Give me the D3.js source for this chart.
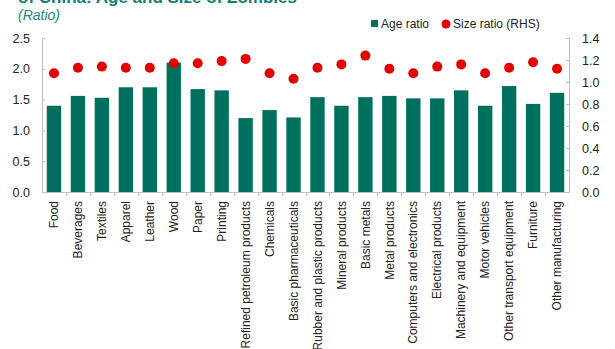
<!DOCTYPE html>
<html><head><meta charset="utf-8">
<script src="https://cdn.jsdelivr.net/npm/d3@7"></script>
<style>
html,body{margin:0;padding:0;background:#fff;}
svg{display:block;font-family:"Liberation Sans",Arial,sans-serif;}
</style></head>
<body><svg id="c" width="615" height="349"></svg>
<script>
const categories = ["Food","Beverages","Textiles","Apparel","Leather","Wood","Paper","Printing",
  "Refined petroleum products","Chemicals","Basic pharmaceuticals","Rubber and plastic products",
  "Mineral products","Basic metals","Metal products","Computers and electronics","Electrical products",
  "Machinery and equipment","Motor vehicles","Other transport equipment","Furniture","Other manufacturing"];
const ageRatio = [1.40,1.56,1.53,1.70,1.70,2.10,1.67,1.65,1.20,1.33,1.21,1.54,
  1.40,1.54,1.56,1.52,1.52,1.65,1.40,1.72,1.43,1.61];
const sizeRatio = [1.08,1.13,1.14,1.13,1.13,1.17,1.17,1.19,1.21,1.08,1.03,1.13,
  1.16,1.24,1.12,1.08,1.14,1.16,1.08,1.13,1.18,1.12];
const leftTicks = [0,0.5,1.0,1.5,2.0,2.5];
const rightTicks = [0,0.2,0.4,0.6,0.8,1.0,1.2,1.4];
const titleText = "of China: Age and Size of Zombies";
const subtitleText = "(Ratio)";
const legendLabels = ["Age ratio","Size ratio (RHS)"];

const teal = "#00705e", red = "#e50000", axisCol = "#bdbdbd";
const svg = d3.select("#c");
const L = 42, R = 569, T = 38, B = 192;

const x = d3.scaleBand().domain(categories).range([L,R]).paddingInner(0.4).paddingOuter(0.2);
const yL = d3.scaleLinear().domain([0,2.5]).range([B,T]);
const yR = d3.scaleLinear().domain([0,1.4]).range([B,T]);

// title (top of it is cut off in the reference)
svg.append("text").attr("x",18).attr("y",3).attr("font-size",17).attr("font-weight","bold")
  .attr("fill","#0f7f6f").text(titleText);
svg.append("text").attr("x",18).attr("y",20).attr("font-size",14).attr("font-style","italic")
  .attr("fill","#1a8a7a").text(subtitleText);

// bars
svg.append("g").selectAll("rect").data(categories).join("rect")
  .attr("x",d=>x(d)).attr("width",x.bandwidth())
  .attr("y",(d,i)=>yL(ageRatio[i])).attr("height",(d,i)=>B-yL(ageRatio[i]))
  .attr("fill",teal);

// axes
const gl = svg.append("g").attr("transform",`translate(${L},0)`)
  .call(d3.axisLeft(yL).tickValues(leftTicks).tickFormat(d3.format(".1f")).tickSize(-3).tickPadding(12));
const gr = svg.append("g").attr("transform",`translate(${R},0)`)
  .call(d3.axisRight(yR).tickValues(rightTicks).tickFormat(d3.format(".1f")).tickSize(-3).tickPadding(13));
[gl,gr].forEach(g=>{
  g.select(".domain").attr("stroke",axisCol);
  g.selectAll(".tick line").attr("stroke",axisCol);
  g.selectAll(".tick text").attr("font-size",12.5).attr("fill","#222").attr("font-family","Liberation Sans, Arial, sans-serif");
});

// bottom axis
svg.append("line").attr("x1",L).attr("x2",R).attr("y1",B+0.5).attr("y2",B+0.5).attr("stroke",axisCol);
const bounds = d3.range(1,categories.length).map(k=>x(categories[k]) - x.step()*x.paddingInner()/2);
svg.append("g").selectAll("line").data(bounds).join("line")
  .attr("x1",d=>Math.round(d)+0.5).attr("x2",d=>Math.round(d)+0.5).attr("y1",B).attr("y2",B+4)
  .attr("stroke",axisCol);

// category labels
svg.append("g").selectAll("text").data(categories).join("text")
  .attr("transform",d=>`translate(${x(d)+x.bandwidth()/2},201) rotate(-90)`)
  .attr("text-anchor","end").attr("dy","0.35em").attr("font-size",12).attr("fill","#222")
  .text(d=>d);

// dots
svg.append("g").selectAll("circle").data(categories).join("circle")
  .attr("cx",d=>x(d)+x.bandwidth()/2).attr("cy",(d,i)=>yR(sizeRatio[i])).attr("r",5)
  .attr("fill",red);

// legend
const lg = svg.append("g");
lg.append("rect").attr("x",371).attr("y",20).attr("width",7).attr("height",7).attr("fill",teal);
lg.append("text").attr("x",381).attr("y",28).attr("font-size",12).attr("fill","#222").text(legendLabels[0]);
lg.append("circle").attr("cx",446).attr("cy",24).attr("r",4.5).attr("fill",red);
lg.append("text").attr("x",453).attr("y",28).attr("font-size",12).attr("fill","#222").text(legendLabels[1]);
</script></body></html>
